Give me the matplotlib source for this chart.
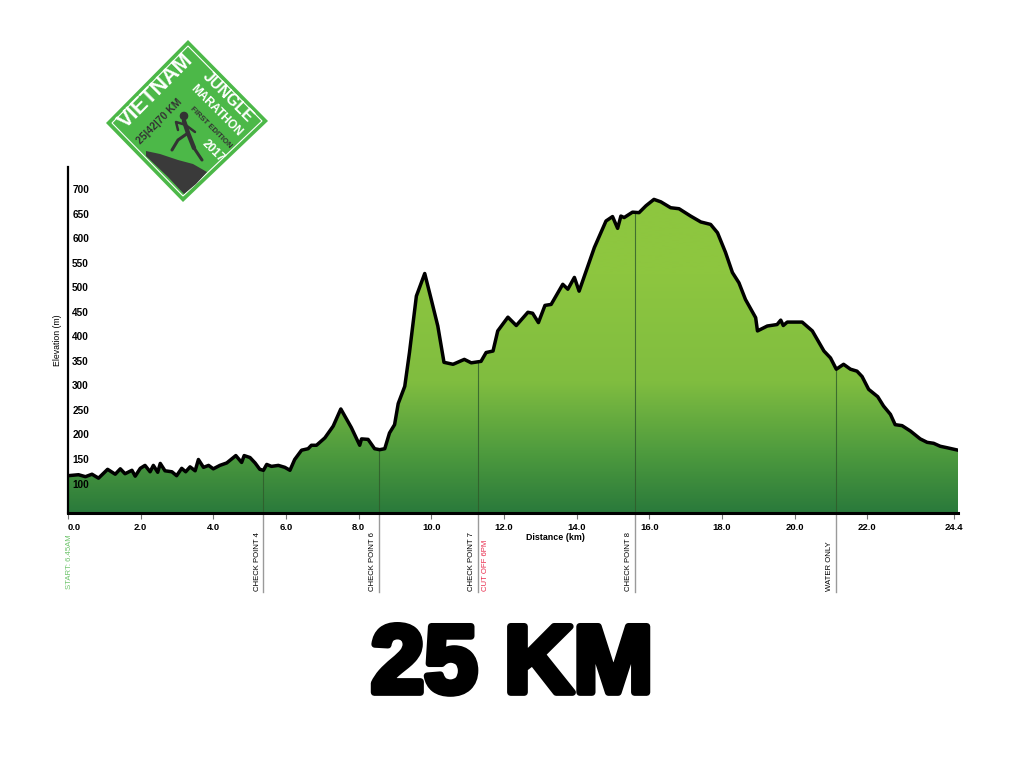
import numpy as np
import matplotlib
matplotlib.use("Agg")
import matplotlib.pyplot as plt
from matplotlib.colors import LinearSegmentedColormap
from matplotlib.patches import Polygon, Circle
from matplotlib import transforms
import matplotlib.patheffects as pe

# elevation profile (km, m)
distance = [0.0, 0.29, 0.48, 0.66, 0.84, 1.09, 1.30, 1.44, 1.57, 1.76, 1.85, 1.99, 2.12, 2.26,
            2.35, 2.47, 2.54, 2.67, 2.86, 2.99, 3.13, 3.24, 3.36, 3.50, 3.59, 3.73, 3.87, 4.00,
            4.18, 4.37, 4.62, 4.78, 4.85, 5.01, 5.15, 5.28, 5.38, 5.47, 5.60, 5.79, 5.97, 6.11,
            6.24, 6.43, 6.61, 6.70, 6.84, 7.07, 7.30, 7.51, 7.80, 8.03, 8.08, 8.26, 8.44, 8.58,
            8.72, 8.85, 8.99, 9.09, 9.27, 9.40, 9.59, 9.82, 10.0, 10.18, 10.35, 10.60, 10.91,
            11.10, 11.37, 11.51, 11.70, 11.83, 12.11, 12.34, 12.66, 12.79, 12.95, 13.13, 13.30,
            13.62, 13.76, 13.94, 14.07, 14.49, 14.81, 14.99, 15.13, 15.22, 15.31, 15.54, 15.72,
            15.91, 16.13, 16.32, 16.59, 16.82, 17.14, 17.42, 17.69, 17.88, 18.10, 18.29, 18.47,
            18.65, 18.93, 18.98, 19.25, 19.52, 19.62, 19.69, 19.80, 20.21, 20.49, 20.81, 20.99,
            21.15, 21.35, 21.54, 21.72, 21.86, 22.04, 22.29, 22.45, 22.64, 22.77, 22.96, 23.19,
            23.46, 23.65, 23.83, 24.01, 24.20, 24.50]
elevation = [116, 118, 114, 119, 111, 129, 119, 130, 120, 127, 115, 131, 137, 124,
             137, 123, 141, 126, 124, 116, 131, 124, 134, 126, 149, 133, 137, 130,
             137, 142, 157, 143, 157, 153, 142, 129, 127, 139, 135, 137, 133, 127,
             149, 168, 171, 178, 178, 193, 217, 252, 214, 178, 191, 190, 171, 169,
             171, 203, 220, 263, 298, 367, 482, 528, 475, 421, 347, 343, 353,
             346, 349, 367, 370, 411, 439, 422, 449, 447, 428, 463, 465,
             506, 496, 520, 492, 581, 635, 644, 620, 645, 642, 653, 652,
             666, 679, 674, 662, 660, 645, 633, 628, 611, 571, 530, 509,
             475, 438, 411, 421, 424, 433, 422, 429, 429, 411, 370, 356,
             333, 343, 333, 329, 318, 292, 277, 258, 241, 220, 218, 207,
             191, 184, 182, 176, 173, 168]

# checkpoints
cp_km = [5.38, 8.57, 11.29, 15.60, 21.15]
cp_labels = ["CHECK POINT 4", "CHECK POINT 6", "CHECK POINT 7", "CHECK POINT 8", "WATER ONLY"]

x_ticks = [0.0, 2.0, 4.0, 6.0, 8.0, 10.0, 12.0, 14.0, 16.0, 18.0, 20.0, 22.0, 24.4]
y_ticks = [100, 150, 200, 250, 300, 350, 400, 450, 500, 550, 600, 650, 700]

plt.rcParams['font.family'] = ['Liberation Sans', 'DejaVu Sans']

fig = plt.figure(figsize=(10.24, 7.68), dpi=100)
ax = fig.add_axes([68 / 1024, 1 - 513 / 768, 890 / 1024, 346 / 768])
ymin, ymax = 40, 745
ax.set_xlim(0, 24.5)
ax.set_ylim(ymin, ymax)

# gradient fill under the profile
cmap = LinearSegmentedColormap.from_list(
    "elev", [(0.0, "#2a7a3b"), (0.25, "#4e9b3e"), (0.55, "#80bd40"), (1.0, "#8dc63f")])
grad = np.linspace(0, 1, 256).reshape(-1, 1)
grad = np.clip(grad * 1.45, 0, 1)
im = ax.imshow(grad, extent=(0, 24.5, ymin, ymax), origin="lower", aspect="auto",
               cmap=cmap, zorder=1)
verts = np.column_stack([np.r_[distance[0], distance, distance[-1]],
                         np.r_[ymin, elevation, ymin]])
poly = Polygon(verts, closed=True, facecolor="none", edgecolor="none")
ax.add_patch(poly)
im.set_clip_path(poly)

ax.plot(distance, elevation, color="black", lw=2.5, zorder=4, solid_joinstyle="round")

# checkpoint lines and labels
trans = transforms.blended_transform_factory(ax.transData, ax.transAxes)
cp_elev = np.interp(cp_km, distance, elevation)
for x, e in zip(cp_km, cp_elev):
    ax.plot([x, x], [ymin, e], color="#2f5a2a", lw=0.8, alpha=0.8, zorder=3)
    ax.plot([x, x], [0, -0.228], color="#9a9a9a", lw=1.0, transform=trans, clip_on=False)
for x, lab in zip(cp_km, cp_labels):
    ax.text(x - 0.08, -0.224, lab, transform=trans, rotation=90, ha="right", va="bottom",
            fontsize=5.6, color="black")
ax.text(cp_km[2] + 0.1, -0.224, "CUT OFF 6PM", transform=trans, rotation=90,
        ha="left", va="bottom", fontsize=5.6, color="#e8294a")
ax.text(0.05, -0.221, "START: 6.45AM", transform=trans, rotation=90,
        ha="center", va="bottom", fontsize=5.6, color="#6cc36a")

# axes styling
for s in ["top", "right"]:
    ax.spines[s].set_visible(False)
ax.spines["left"].set_linewidth(1.6)
ax.spines["bottom"].set_linewidth(2.2)
ax.spines["left"].set_zorder(5)
ax.spines["bottom"].set_zorder(5)

ax.set_xticks(x_ticks)
ax.set_xticklabels([f"{v:.1f}" for v in x_ticks], fontsize=6.8, fontweight="bold")
ax.get_xticklabels()[0].set_horizontalalignment("left")
ax.tick_params(axis="x", length=4, width=0.8, color="#777777", pad=3)

ax.set_yticks(y_ticks)
ax.set_yticklabels([str(v) for v in y_ticks], fontsize=7.2, fontweight="bold")
ax.tick_params(axis="y", length=0, pad=-3)
for lab in ax.get_yticklabels():
    lab.set_horizontalalignment("left")
    lab.set_zorder(6)

ax.text(-0.007, 0.5, "Elevation (m)", transform=ax.transAxes, rotation=90,
        ha="right", va="center", fontsize=6.3)
ax.text(13.42, -0.07, "Distance (km)", transform=trans, ha="center", va="center",
        fontsize=6.4, fontweight="bold")

# big title at the bottom
fig.text(0.5, 0.131, "25 KM", ha="center", va="center", fontsize=69,
         fontweight="bold", color="black", family=["Liberation Sans", "DejaVu Sans"],
         path_effects=[pe.withStroke(linewidth=5, foreground="black")])

# logo (pixel coordinates of the figure)
lg = fig.add_axes([0, 0, 1, 1], zorder=10)
lg.set_xlim(0, 1024)
lg.set_ylim(768, 0)
lg.axis("off")
lg.patch.set_alpha(0)
diamond = [(188, 40), (268, 121), (183, 202), (106, 123)]
lg.add_patch(Polygon(diamond, closed=True, facecolor="#4cb848", edgecolor="none"))
inner = [(188, 46), (262, 121), (183, 196), (112, 123)]
lg.add_patch(Polygon(inner, closed=True, facecolor="none", edgecolor="white", lw=0.8))
mountain = [(146, 151), (160, 154), (178, 160), (193, 164), (207, 172), (196, 184),
            (184, 194), (168, 177), (146, 156)]
lg.add_patch(Polygon(mountain, closed=True, facecolor="#3a3a3a", edgecolor="none"))
dark = "#333333"
lg.add_patch(Circle((184, 116), 3.6, color=dark))
lg.plot([184, 188, 194], [121, 133, 148], color=dark, lw=3.2, solid_capstyle="round")
lg.plot([188, 178, 172], [133, 140, 150], color=dark, lw=2.2, solid_capstyle="round")
lg.plot([194, 202], [148, 160], color=dark, lw=2.2, solid_capstyle="round")
lg.plot([186, 176, 178], [125, 122, 130], color=dark, lw=1.8, solid_capstyle="round")
lg.plot([187, 195], [126, 132], color=dark, lw=1.8, solid_capstyle="round")
lg.text(156, 91, "VIETNAM", rotation=45, ha="center", va="center", fontsize=15.5,
        fontweight="bold", color="white")
lg.text(228, 97, "JUNGLE", rotation=-45, ha="center", va="center", fontsize=11.5,
        fontweight="bold", color="white")
lg.text(216, 111, "MARATHON", rotation=-45, ha="center", va="center", fontsize=8.5,
        fontweight="bold", color="white")
lg.text(211, 128, "FIRST EDITION", rotation=-45, ha="center", va="center", fontsize=5.6,
        fontweight="bold", color=dark)
lg.text(213, 151, "2017", rotation=-45, ha="center", va="center", fontsize=8.5,
        fontweight="bold", color="white")
lg.text(160, 121, "25|42|70 KM", rotation=45, ha="center", va="center", fontsize=7.5,
        fontweight="bold", color=dark)

fig.savefig("out.png", dpi=100, facecolor="white")
